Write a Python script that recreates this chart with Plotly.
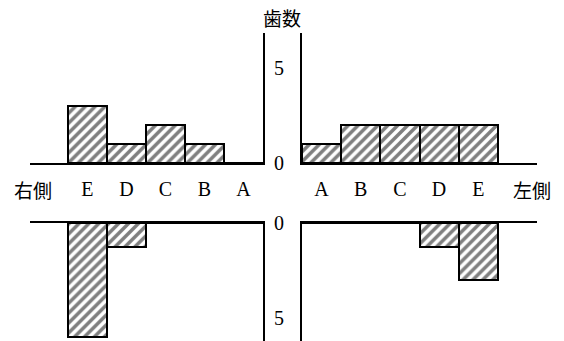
import plotly.graph_objects as go

# ---- data ----
cats_right_side = ["E", "D", "C", "B", "A"]      # 右側 (drawn left half)
cats_left_side = ["A", "B", "C", "D", "E"]       # 左側 (drawn right half)
upper_right_side = [3, 1, 2, 1, 0]
upper_left_side = [1, 2, 2, 2, 2]
lower_right_side = [6, 1.25, 0, 0, 0]
lower_left_side = [0, 0, 0, 1.25, 3]
tick_vals = [0, 5]
tick_text = ["0", "5"]
y_title = "歯数"
side_right_label = "右側"
side_left_label = "左側"

W, H = 564, 341
U = 19.0  # px per tooth

SERIF = "Liberation Serif"
CJK = "Noto Sans CJK JP"

pattern = dict(shape="/", fgcolor="black", bgcolor="white", size=7, solidity=0.5)
bar_style = dict(marker=dict(color="white", line=dict(color="black", width=2), pattern=pattern),
                 showlegend=False, hoverinfo="skip")

fig = go.Figure()
fig.add_bar(x=cats_right_side, y=upper_right_side, xaxis="x", yaxis="y", **bar_style)
fig.add_bar(x=cats_left_side, y=upper_left_side, xaxis="x2", yaxis="y2", **bar_style)
fig.add_bar(x=cats_right_side, y=lower_right_side, xaxis="x3", yaxis="y3", **bar_style)
fig.add_bar(x=cats_left_side, y=lower_left_side, xaxis="x4", yaxis="y4", **bar_style)

line = dict(showline=True, linecolor="black", linewidth=2, showgrid=False, zeroline=False,
            ticks="", automargin=False)

left_dom = [30 / W, 263 / W]
right_dom = [302 / W, 537 / W]
top_dom = [(H - 163) / H, (H - 33) / H]
bot_dom = [0, (H - 223) / H]

xfont = dict(family=SERIF, size=20, color="black")

fig.update_layout(
    width=W, height=H, margin=dict(l=0, r=0, t=0, b=0, pad=0, autoexpand=False),
    paper_bgcolor="white", plot_bgcolor="rgba(0,0,0,0)",
    bargap=0, showlegend=False,
    xaxis=dict(domain=left_dom, anchor="y", range=[-1.47, 4.5], type="category",
               categoryorder="array", categoryarray=cats_right_side,
               tickfont=xfont, ticklabelstandoff=7, **line),
    yaxis=dict(domain=top_dom, anchor="x", range=[0, 130 / U], side="right",
               showticklabels=False, **line),
    xaxis2=dict(domain=right_dom, anchor="y2", range=[-0.5, 5.5], type="category",
                categoryorder="array", categoryarray=cats_left_side,
                tickfont=xfont, ticklabelstandoff=7, **line),
    yaxis2=dict(domain=top_dom, anchor="x2", range=[0, 130 / U], side="left",
                tickvals=tick_vals, ticktext=tick_text, tickfont=xfont,
                ticklabelstandoff=12, **line),
    xaxis3=dict(domain=left_dom, anchor="y3", range=[-1.47, 4.5], type="category",
                categoryorder="array", categoryarray=cats_right_side, side="top",
                showticklabels=False, **line),
    yaxis3=dict(domain=bot_dom, anchor="x3", range=[118 / U, 0], side="right",
                showticklabels=False, **line),
    xaxis4=dict(domain=right_dom, anchor="y4", range=[-0.5, 5.5], type="category",
                categoryorder="array", categoryarray=cats_left_side, side="top",
                showticklabels=False, **line),
    yaxis4=dict(domain=bot_dom, anchor="x4", range=[118 / U, 0], side="left",
                tickvals=tick_vals, ticktext=tick_text, tickfont=xfont,
                ticklabelstandoff=12, **line),
)

cjk_font = dict(family=CJK, size=19, color="black")
fig.add_annotation(text=y_title, x=282 / W, y=(H - 18) / H, xref="paper", yref="paper",
                   showarrow=False, font=cjk_font, xanchor="center", yanchor="middle")
fig.add_annotation(text=side_right_label, x=33 / W, y=(H - 190) / H, xref="paper", yref="paper",
                   showarrow=False, font=cjk_font, xanchor="center", yanchor="middle")
fig.add_annotation(text=side_left_label, x=532 / W, y=(H - 190) / H, xref="paper", yref="paper",
                   showarrow=False, font=cjk_font, xanchor="center", yanchor="middle")

fig.write_html("out.html", config={"displayModeBar": False},
               post_script="document.body.style.margin='0';document.body.style.overflow='hidden';")
